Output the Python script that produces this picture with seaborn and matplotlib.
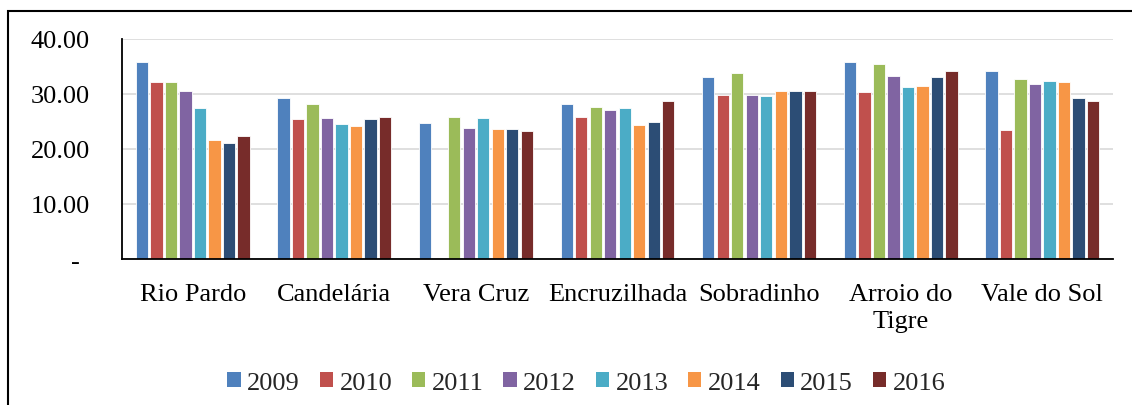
import numpy as np
import pandas as pd
import matplotlib
matplotlib.use("Agg")
import matplotlib.pyplot as plt
import seaborn as sns
from matplotlib.patches import Rectangle

categories = ["Rio Pardo", "Candelária", "Vera Cruz", "Encruzilhada", "Sobradinho", "Arroio do\nTigre", "Vale do Sol"]
years = ["2009", "2010", "2011", "2012", "2013", "2014", "2015", "2016"]
v2009 = [35.8, 29.2, 24.8, 28.1, 33.0, 35.8, 34.1]
v2010 = [32.1, 25.5, np.nan, 25.8, 29.9, 30.4, 23.4]
v2011 = [32.1, 28.2, 25.8, 27.6, 33.8, 35.4, 32.7]
v2012 = [30.5, 25.7, 23.8, 27.1, 29.9, 33.2, 31.8]
v2013 = [27.4, 24.5, 25.6, 27.4, 29.7, 31.2, 32.4]
v2014 = [21.6, 24.2, 23.6, 24.4, 30.5, 31.5, 32.1]
v2015 = [21.0, 25.5, 23.7, 24.9, 30.5, 33.0, 29.2]
v2016 = [22.3, 25.8, 23.3, 28.8, 30.6, 34.1, 28.7]
yticks = [0, 10, 20, 30, 40]
ytick_labels = ["-", "10.00", "20.00", "30.00", "40.00"]
colors = ["#4F81BD", "#C0504D", "#9BBB59", "#8064A2", "#4BACC6", "#F79646", "#2C4D75", "#772C2A"]

series = [v2009, v2010, v2011, v2012, v2013, v2014, v2015, v2016]
rows = []
for y, vals in zip(years, series):
    for c, v in zip(categories, vals):
        rows.append({"Município": c, "Ano": y, "Valor": v})
df = pd.DataFrame(rows)

FONT = ["Liberation Serif", "DejaVu Serif"]
FS = 19

sns.set_theme(style="white")
plt.rcParams["font.family"] = "serif"
plt.rcParams["font.serif"] = FONT

fig = plt.figure(figsize=(11.32, 4.06), dpi=100)
ax = fig.add_axes([0.1078, 0.3596, 0.9832 - 0.1078, 0.9015 - 0.3596])

sns.barplot(data=df, x="Município", y="Valor", hue="Ano", order=categories,
            hue_order=years, palette=colors, width=0.82, gap=0.15,
            edgecolor="white", linewidth=0.6, saturation=1, ax=ax)

ax.set_ylim(0, 40)
ax.set_yticks(yticks)
ax.set_yticklabels(ytick_labels)
ax.yaxis.grid(True, color="#D9D9D9", linewidth=1.2)
ax.set_axisbelow(True)
ax.set_xlabel("")
ax.set_ylabel("")
for s in ["top", "right"]:
    ax.spines[s].set_visible(False)
ax.spines["left"].set_color("black")
ax.spines["bottom"].set_color("black")
ax.spines["left"].set_linewidth(1.3)
ax.spines["bottom"].set_linewidth(1.3)
ax.tick_params(axis="y", length=0, pad=23, colors="black")
ax.tick_params(axis="x", length=0, pad=17, colors="black")
for i, lbl in enumerate(ax.get_yticklabels()):
    lbl.set_fontfamily(FONT)
    lbl.set_fontsize(FS)
    if i == 0:
        lbl.set_horizontalalignment("center")
        lbl.set_x(-15 / 991)
for lbl in ax.get_xticklabels():
    lbl.set_fontfamily(FONT)
    lbl.set_fontsize(FS)
    lbl.set_linespacing(1.3)
    lbl.set_verticalalignment("top")

leg = ax.get_legend()
if leg is not None:
    leg.remove()
handles = [Rectangle((0, 0), 1, 1, facecolor=c, edgecolor="none") for c in colors]
fig.legend(handles, years, loc="center", bbox_to_anchor=(0.518, 0.055), ncol=8,
           frameon=False, prop={"family": FONT, "size": FS}, handlelength=0.5,
           handleheight=0.5, handletextpad=0.25, columnspacing=0.75)

fig.patches.append(Rectangle((8 / 1132, -0.1), 1.2, 0.9704 + 0.1, transform=fig.transFigure,
                             facecolor="none", edgecolor="black", linewidth=1.5, zorder=10))

fig.savefig("out.png", dpi=100)
